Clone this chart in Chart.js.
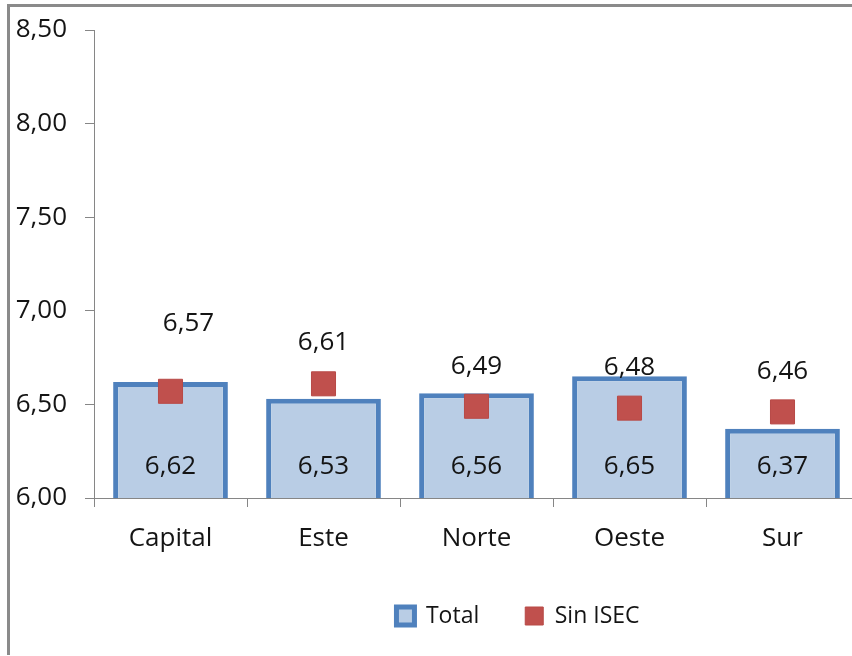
<!DOCTYPE html>
<html>
<head>
<meta charset="utf-8">
<script src="https://cdn.jsdelivr.net/npm/chart.js@4.4.0/dist/chart.umd.min.js"></script>
<style>
  html, body { margin: 0; padding: 0; background: #fff; overflow: hidden; }
  #frame {
    position: absolute; left: 7px; top: 4px;
    border-left: 3px solid #8a8a8a; border-top: 3px solid #8a8a8a;
  }
  #box { position: relative; width: 900px; height: 648px; }
</style>
</head>
<body>
<div id="frame"><div id="box"><canvas id="chart"></canvas></div></div>
<script>
// data
const categories = ['Capital', 'Este', 'Norte', 'Oeste', 'Sur'];
const totalValues = [6.62, 6.53, 6.56, 6.65, 6.37];
const sinIsecValues = [6.57, 6.61, 6.49, 6.48, 6.46];
const yTicks = [6.0, 6.5, 7.0, 7.5, 8.0, 8.5];

const FONT = '"Open Sans", "Noto Sans", sans-serif';
const TEXT = '#141414';
const fmt = v => v.toFixed(2).replace('.', ',');

// draws the number labels on bars and markers
const valueLabels = {
  id: 'valueLabels',
  afterDatasetsDraw(chart, args, opts) {
    const ctx = chart.ctx;
    const y = chart.scales.y;
    const basePx = y.getPixelForValue(y.min);
    ctx.save();
    ctx.font = '26px ' + FONT;
    ctx.fillStyle = TEXT;
    ctx.textAlign = 'center';
    ctx.textBaseline = 'middle';
    chart.getDatasetMeta(0).data.forEach((bar, i) => {
      ctx.fillText(fmt(totalValues[i]), bar.x, basePx - 31);
    });
    chart.getDatasetMeta(1).data.forEach((pt, i) => {
      const s = opts.shift[i] || [0, -40];
      ctx.fillText(fmt(sinIsecValues[i]), pt.x + s[0], pt.y + s[1]);
    });
    ctx.restore();
  }
};

// nudge the legend to where Excel put it
const legendShift = {
  id: 'legendShift',
  afterLayout(chart, args, opts) {
    const lg = chart.legend;
    const dx = opts.centerX - (lg.left + lg.right) / 2;
    const dy = opts.centerY - (lg.top + lg.bottom) / 2;
    lg.left += dx; lg.right += dx;
    lg.top += dy; lg.bottom += dy;
  }
};

new Chart(document.getElementById('chart'), {
  type: 'bar',
  data: {
    labels: categories,
    datasets: [
      {
        label: 'Total',
        data: totalValues,
        backgroundColor: '#B9CDE5',
        borderColor: '#4F81BD',
        borderWidth: 5,
        borderSkipped: false,
        categoryPercentage: 1,
        barPercentage: 0.75,
        order: 1
      },
      {
        type: 'line',
        label: 'Sin ISEC',
        data: sinIsecValues,
        showLine: false,
        pointStyle: 'rect',
        pointRadius: 17,
        pointHoverRadius: 17,
        backgroundColor: '#C0504D',
        borderColor: '#B84A47',
        borderWidth: 1,
        order: 0
      }
    ]
  },
  options: {
    responsive: true,
    maintainAspectRatio: false,
    animation: false,
    layout: { padding: { top: 23, right: 51, left: 0, bottom: 10 } },
    scales: {
      x: {
        offset: true,
        grid: { offset: true, drawOnChartArea: false, tickLength: 9, color: '#868686' },
        border: { color: '#868686', width: 1 },
        ticks: { color: TEXT, font: { family: FONT, size: 26 }, padding: 16 },
        afterFit(scale) { scale.height = 68; }
      },
      y: {
        min: 6,
        max: 8.5,
        afterBuildTicks(scale) { scale.ticks = yTicks.map(v => ({ value: v })); },
        grid: { drawOnChartArea: false, tickLength: 9, color: '#868686' },
        border: { color: '#868686', width: 1 },
        ticks: {
          color: TEXT,
          font: { family: FONT, size: 26 },
          padding: 18,
          callback: v => fmt(v)
        },
        afterFit(scale) {
          scale.width = 84;
          scale.paddingTop = 0;
          scale.paddingBottom = 0;
        }
      }
    },
    plugins: {
      legend: {
        position: 'bottom',
        labels: {
          color: TEXT,
          font: { family: FONT, size: 23 },
          boxWidth: 18,
          boxHeight: 18,
          padding: 46,
          sort: (a, b) => a.datasetIndex - b.datasetIndex
        }
      },
      tooltip: { enabled: false },
      valueLabels: { shift: [[18, -68], [0, -41], [0, -40], [0, -41], [0, -40]] },
      legendShift: { centerX: 508, centerY: 591 }
    }
  },
  plugins: [valueLabels, legendShift]
});
</script>
</body>
</html>
